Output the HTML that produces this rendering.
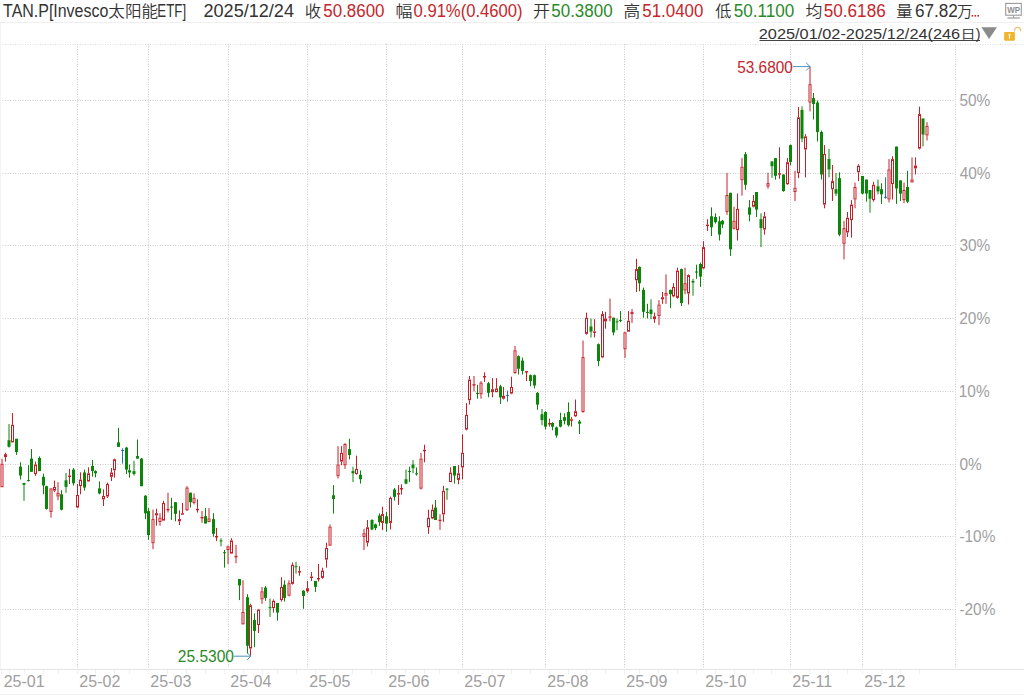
<!DOCTYPE html>
<html><head><meta charset="utf-8"><title>TAN.P</title><style>
html,body{margin:0;padding:0;background:#fff;}
body{width:1024px;height:695px;overflow:hidden;position:relative;}
</style></head><body>
<svg width="1024" height="695" style="position:absolute;left:0;top:0;font-family:'Liberation Sans','Noto Sans CJK SC',sans-serif"><g stroke="#cbcbcb" stroke-width="1" stroke-dasharray="1 1.5"><line x1="0" y1="100.5" x2="955" y2="100.5"/><line x1="0" y1="173.5" x2="955" y2="173.5"/><line x1="0" y1="245.5" x2="955" y2="245.5"/><line x1="0" y1="318.5" x2="955" y2="318.5"/><line x1="0" y1="391.5" x2="955" y2="391.5"/><line x1="0" y1="464.5" x2="955" y2="464.5"/><line x1="0" y1="536.5" x2="955" y2="536.5"/><line x1="0" y1="609.5" x2="955" y2="609.5"/><line x1="77.5" y1="44" x2="77.5" y2="669"/><line x1="148.5" y1="44" x2="148.5" y2="669"/><line x1="228.5" y1="44" x2="228.5" y2="669"/><line x1="307.5" y1="44" x2="307.5" y2="669"/><line x1="386.5" y1="44" x2="386.5" y2="669"/><line x1="462.5" y1="44" x2="462.5" y2="669"/><line x1="545.5" y1="44" x2="545.5" y2="669"/><line x1="624.5" y1="44" x2="624.5" y2="669"/><line x1="703.5" y1="44" x2="703.5" y2="669"/><line x1="790.5" y1="44" x2="790.5" y2="669"/><line x1="862.5" y1="44" x2="862.5" y2="669"/><line x1="955.5" y1="44" x2="955.5" y2="669"/></g><line x1="0" y1="669.5" x2="1024" y2="669.5" stroke="#e4e4e4"/><line x1="0" y1="22.5" x2="1024" y2="22.5" stroke="#efefef"/><line x1="0" y1="694.5" x2="1024" y2="694.5" stroke="#efefef"/><g stroke="#f1f1f1" stroke-width="1"><line x1="1.5" y1="670" x2="1.5" y2="674"/><line x1="9.5" y1="670" x2="9.5" y2="674"/><line x1="24.5" y1="670" x2="24.5" y2="674"/><line x1="43.5" y1="670" x2="43.5" y2="674"/><line x1="58.5" y1="670" x2="58.5" y2="674"/><line x1="77.5" y1="670" x2="77.5" y2="674"/><line x1="95.5" y1="670" x2="95.5" y2="674"/><line x1="114.5" y1="670" x2="114.5" y2="674"/><line x1="129.5" y1="670" x2="129.5" y2="674"/><line x1="148.5" y1="670" x2="148.5" y2="674"/><line x1="167.5" y1="670" x2="167.5" y2="674"/><line x1="186.5" y1="670" x2="186.5" y2="674"/><line x1="205.5" y1="670" x2="205.5" y2="674"/><line x1="224.5" y1="670" x2="224.5" y2="674"/><line x1="243.5" y1="670" x2="243.5" y2="674"/><line x1="262.5" y1="670" x2="262.5" y2="674"/><line x1="277.5" y1="670" x2="277.5" y2="674"/><line x1="296.5" y1="670" x2="296.5" y2="674"/><line x1="315.5" y1="670" x2="315.5" y2="674"/><line x1="333.5" y1="670" x2="333.5" y2="674"/><line x1="352.5" y1="670" x2="352.5" y2="674"/><line x1="371.5" y1="670" x2="371.5" y2="674"/><line x1="386.5" y1="670" x2="386.5" y2="674"/><line x1="405.5" y1="670" x2="405.5" y2="674"/><line x1="424.5" y1="670" x2="424.5" y2="674"/><line x1="439.5" y1="670" x2="439.5" y2="674"/><line x1="458.5" y1="670" x2="458.5" y2="674"/><line x1="473.5" y1="670" x2="473.5" y2="674"/><line x1="492.5" y1="670" x2="492.5" y2="674"/><line x1="511.5" y1="670" x2="511.5" y2="674"/><line x1="530.5" y1="670" x2="530.5" y2="674"/><line x1="549.5" y1="670" x2="549.5" y2="674"/><line x1="568.5" y1="670" x2="568.5" y2="674"/><line x1="586.5" y1="670" x2="586.5" y2="674"/><line x1="605.5" y1="670" x2="605.5" y2="674"/><line x1="624.5" y1="670" x2="624.5" y2="674"/><line x1="639.5" y1="670" x2="639.5" y2="674"/><line x1="658.5" y1="670" x2="658.5" y2="674"/><line x1="677.5" y1="670" x2="677.5" y2="674"/><line x1="696.5" y1="670" x2="696.5" y2="674"/><line x1="715.5" y1="670" x2="715.5" y2="674"/><line x1="734.5" y1="670" x2="734.5" y2="674"/><line x1="753.5" y1="670" x2="753.5" y2="674"/><line x1="771.5" y1="670" x2="771.5" y2="674"/><line x1="790.5" y1="670" x2="790.5" y2="674"/><line x1="809.5" y1="670" x2="809.5" y2="674"/><line x1="828.5" y1="670" x2="828.5" y2="674"/><line x1="847.5" y1="670" x2="847.5" y2="674"/><line x1="862.5" y1="670" x2="862.5" y2="674"/><line x1="881.5" y1="670" x2="881.5" y2="674"/><line x1="900.5" y1="670" x2="900.5" y2="674"/><line x1="919.5" y1="670" x2="919.5" y2="674"/></g><line x1="0" y1="44.5" x2="1024" y2="44.5" stroke="#dcdcdc" stroke-dasharray="1 1.5"/><line x1="0.5" y1="23" x2="0.5" y2="669" stroke="#f3f3f3"/><g stroke-width="1"><line x1="2.00" y1="458.6" x2="2.00" y2="463.7" stroke="#c81e28"/><rect x="1.00" y="464.2" width="2.00" height="22.5" fill="#fff" stroke="#c81e28"/><line x1="5.50" y1="452.7" x2="5.50" y2="454.2" stroke="#c81e28"/><line x1="5.50" y1="457.1" x2="5.50" y2="461.5" stroke="#c81e28"/><rect x="4.50" y="454.7" width="2.00" height="1.9" fill="#fff" stroke="#c81e28"/><line x1="9.00" y1="424.1" x2="9.00" y2="447.6" stroke="#0b860b"/><rect x="7.50" y="440.2" width="3.00" height="6.6" fill="#0b860b"/><line x1="12.50" y1="413.1" x2="12.50" y2="424.8" stroke="#c81e28"/><rect x="11.50" y="425.3" width="2.00" height="16.6" fill="#fff" stroke="#c81e28"/><line x1="16.50" y1="438.8" x2="16.50" y2="454.9" stroke="#0b860b"/><rect x="15.00" y="438.8" width="3.00" height="13.2" fill="#0b860b"/><line x1="20.50" y1="462.3" x2="20.50" y2="479.5" stroke="#0b860b"/><rect x="19.00" y="466.7" width="3.00" height="8.8" fill="#0b860b"/><line x1="24.00" y1="482.8" x2="24.00" y2="500.8" stroke="#0b860b"/><rect x="22.50" y="483.0" width="3.00" height="1.8" fill="#0b860b"/><line x1="28.50" y1="465.2" x2="28.50" y2="481.5" stroke="#0b860b"/><rect x="27.00" y="480.1" width="3.00" height="1.0" fill="#0b860b"/><line x1="31.50" y1="449.1" x2="31.50" y2="471.8" stroke="#0b860b"/><rect x="30.00" y="458.6" width="3.00" height="13.2" fill="#0b860b"/><line x1="35.50" y1="461.5" x2="35.50" y2="464.5" stroke="#c81e28"/><line x1="35.50" y1="474.0" x2="35.50" y2="475.9" stroke="#c81e28"/><rect x="34.50" y="465.0" width="2.00" height="8.5" fill="#fff" stroke="#c81e28"/><line x1="39.50" y1="456.4" x2="39.50" y2="471.1" stroke="#0b860b"/><rect x="38.00" y="457.9" width="3.00" height="13.2" fill="#0b860b"/><line x1="43.50" y1="473.7" x2="43.50" y2="494.2" stroke="#0b860b"/><rect x="42.00" y="476.8" width="3.00" height="8.7" fill="#0b860b"/><line x1="46.50" y1="485.8" x2="46.50" y2="509.6" stroke="#0b860b"/><rect x="45.00" y="486.2" width="3.00" height="22.7" fill="#0b860b"/><line x1="51.00" y1="511.9" x2="51.00" y2="517.7" stroke="#c81e28"/><rect x="50.00" y="488.9" width="2.00" height="22.5" fill="#fff" stroke="#c81e28"/><line x1="54.50" y1="480.6" x2="54.50" y2="486.9" stroke="#c81e28"/><line x1="54.50" y1="490.6" x2="54.50" y2="492.1" stroke="#c81e28"/><rect x="53.50" y="487.4" width="2.00" height="2.7" fill="#fff" stroke="#c81e28"/><line x1="58.00" y1="482.1" x2="58.00" y2="492.8" stroke="#c81e28"/><line x1="58.00" y1="496.5" x2="58.00" y2="500.2" stroke="#c81e28"/><rect x="57.00" y="493.3" width="2.00" height="2.7" fill="#fff" stroke="#c81e28"/><line x1="61.50" y1="490.2" x2="61.50" y2="510.4" stroke="#0b860b"/><rect x="60.00" y="494.3" width="3.00" height="15.4" fill="#0b860b"/><line x1="66.00" y1="473.0" x2="66.00" y2="492.8" stroke="#0b860b"/><rect x="64.50" y="480.3" width="3.00" height="6.6" fill="#0b860b"/><line x1="69.50" y1="468.9" x2="69.50" y2="475.5" stroke="#c81e28"/><line x1="69.50" y1="477.0" x2="69.50" y2="484.0" stroke="#c81e28"/><rect x="68.50" y="476.0" width="2.00" height="0.5" fill="#fff" stroke="#c81e28"/><line x1="73.50" y1="468.1" x2="73.50" y2="485.5" stroke="#0b860b"/><rect x="72.00" y="469.6" width="3.00" height="13.7" fill="#0b860b"/><line x1="77.50" y1="484.0" x2="77.50" y2="495.0" stroke="#c81e28"/><line x1="77.50" y1="507.4" x2="77.50" y2="508.2" stroke="#c81e28"/><rect x="76.50" y="495.5" width="2.00" height="11.5" fill="#fff" stroke="#c81e28"/><line x1="80.50" y1="472.3" x2="80.50" y2="479.6" stroke="#c81e28"/><line x1="80.50" y1="486.2" x2="80.50" y2="494.3" stroke="#c81e28"/><rect x="79.50" y="480.1" width="2.00" height="5.6" fill="#fff" stroke="#c81e28"/><line x1="84.50" y1="469.6" x2="84.50" y2="490.6" stroke="#0b860b"/><rect x="83.00" y="472.5" width="3.00" height="15.1" fill="#0b860b"/><line x1="88.50" y1="467.4" x2="88.50" y2="473.3" stroke="#c81e28"/><line x1="88.50" y1="481.4" x2="88.50" y2="481.8" stroke="#c81e28"/><rect x="87.50" y="473.8" width="2.00" height="7.1" fill="#fff" stroke="#c81e28"/><line x1="92.50" y1="460.1" x2="92.50" y2="476.7" stroke="#0b860b"/><rect x="91.00" y="465.9" width="3.00" height="5.1" fill="#0b860b"/><line x1="95.50" y1="470.3" x2="95.50" y2="477.4" stroke="#0b860b"/><rect x="94.00" y="471.1" width="3.00" height="2.2" fill="#0b860b"/><line x1="99.50" y1="481.4" x2="99.50" y2="494.3" stroke="#0b860b"/><rect x="98.00" y="488.4" width="3.00" height="5.1" fill="#0b860b"/><line x1="103.50" y1="489.4" x2="103.50" y2="496.0" stroke="#c81e28"/><line x1="103.50" y1="499.4" x2="103.50" y2="506.0" stroke="#c81e28"/><rect x="102.50" y="496.5" width="2.00" height="2.4" fill="#fff" stroke="#c81e28"/><line x1="107.50" y1="482.5" x2="107.50" y2="484.0" stroke="#c81e28"/><line x1="107.50" y1="496.5" x2="107.50" y2="498.0" stroke="#c81e28"/><rect x="106.50" y="484.5" width="2.00" height="11.5" fill="#fff" stroke="#c81e28"/><line x1="111.50" y1="468.1" x2="111.50" y2="472.5" stroke="#c81e28"/><line x1="111.50" y1="477.0" x2="111.50" y2="481.1" stroke="#c81e28"/><rect x="110.50" y="473.0" width="2.00" height="3.4" fill="#fff" stroke="#c81e28"/><line x1="114.50" y1="458.6" x2="114.50" y2="459.3" stroke="#c81e28"/><line x1="114.50" y1="470.3" x2="114.50" y2="477.7" stroke="#c81e28"/><rect x="113.50" y="459.8" width="2.00" height="10.0" fill="#fff" stroke="#c81e28"/><line x1="118.50" y1="427.8" x2="118.50" y2="446.9" stroke="#0b860b"/><rect x="117.00" y="442.4" width="3.00" height="4.4" fill="#0b860b"/><line x1="122.50" y1="448.3" x2="122.50" y2="463.7" stroke="#2a6fb0"/><line x1="121.00" y1="450.5" x2="124.00" y2="450.5" stroke="#2a6fb0"/><line x1="126.50" y1="446.9" x2="126.50" y2="474.0" stroke="#0b860b"/><rect x="125.00" y="447.6" width="3.00" height="22.0" fill="#0b860b"/><line x1="129.50" y1="464.5" x2="129.50" y2="477.7" stroke="#0b860b"/><rect x="128.00" y="470.3" width="3.00" height="2.2" fill="#0b860b"/><line x1="134.00" y1="460.8" x2="134.00" y2="475.6" stroke="#0b860b"/><rect x="132.50" y="471.1" width="3.00" height="2.9" fill="#0b860b"/><line x1="137.50" y1="439.5" x2="137.50" y2="458.6" stroke="#0b860b"/><rect x="136.00" y="456.1" width="3.00" height="2.5" fill="#0b860b"/><line x1="141.50" y1="457.9" x2="141.50" y2="486.2" stroke="#0b860b"/><rect x="140.00" y="458.6" width="3.00" height="27.6" fill="#0b860b"/><line x1="145.50" y1="495.2" x2="145.50" y2="519.2" stroke="#0b860b"/><rect x="144.00" y="495.7" width="3.00" height="17.6" fill="#0b860b"/><line x1="148.50" y1="508.1" x2="148.50" y2="539.7" stroke="#0b860b"/><rect x="147.00" y="511.1" width="3.00" height="23.9" fill="#0b860b"/><line x1="153.00" y1="509.6" x2="153.00" y2="519.1" stroke="#c81e28"/><line x1="153.00" y1="543.3" x2="153.00" y2="549.2" stroke="#c81e28"/><rect x="152.00" y="519.6" width="2.00" height="23.2" fill="#fff" stroke="#c81e28"/><line x1="156.50" y1="508.8" x2="156.50" y2="513.2" stroke="#c81e28"/><line x1="156.50" y1="515.4" x2="156.50" y2="525.7" stroke="#c81e28"/><rect x="155.50" y="513.7" width="2.00" height="1.2" fill="#fff" stroke="#c81e28"/><line x1="160.00" y1="513.2" x2="160.00" y2="517.6" stroke="#c81e28"/><line x1="160.00" y1="522.1" x2="160.00" y2="525.7" stroke="#c81e28"/><rect x="159.00" y="518.1" width="2.00" height="3.4" fill="#fff" stroke="#c81e28"/><line x1="163.50" y1="500.8" x2="163.50" y2="503.0" stroke="#c81e28"/><rect x="162.50" y="503.5" width="2.00" height="16.6" fill="#fff" stroke="#c81e28"/><line x1="168.00" y1="492.7" x2="168.00" y2="508.8" stroke="#c81e28"/><line x1="168.00" y1="509.6" x2="168.00" y2="512.5" stroke="#c81e28"/><rect x="167.00" y="509.3" width="2.00" height="0.5" fill="#fff" stroke="#c81e28"/><line x1="171.50" y1="497.8" x2="171.50" y2="519.9" stroke="#0b860b"/><rect x="170.00" y="506.6" width="3.00" height="1.0" fill="#0b860b"/><line x1="175.50" y1="502.2" x2="175.50" y2="521.3" stroke="#0b860b"/><rect x="174.00" y="502.2" width="3.00" height="11.7" fill="#0b860b"/><line x1="179.50" y1="510.3" x2="179.50" y2="519.1" stroke="#c81e28"/><line x1="179.50" y1="521.3" x2="179.50" y2="525.0" stroke="#c81e28"/><rect x="178.50" y="519.6" width="2.00" height="1.2" fill="#fff" stroke="#c81e28"/><line x1="182.50" y1="503.0" x2="182.50" y2="513.2" stroke="#c81e28"/><rect x="181.50" y="513.7" width="2.00" height="0.5" fill="#fff" stroke="#c81e28"/><line x1="187.00" y1="486.1" x2="187.00" y2="487.5" stroke="#c81e28"/><line x1="187.00" y1="510.3" x2="187.00" y2="511.0" stroke="#c81e28"/><rect x="186.00" y="488.0" width="2.00" height="21.8" fill="#fff" stroke="#c81e28"/><line x1="190.50" y1="492.7" x2="190.50" y2="507.4" stroke="#0b860b"/><rect x="189.00" y="492.7" width="3.00" height="9.5" fill="#0b860b"/><line x1="194.00" y1="493.4" x2="194.00" y2="497.8" stroke="#c81e28"/><line x1="194.00" y1="503.0" x2="194.00" y2="504.4" stroke="#c81e28"/><rect x="193.00" y="498.3" width="2.00" height="4.1" fill="#fff" stroke="#c81e28"/><line x1="197.50" y1="499.3" x2="197.50" y2="508.8" stroke="#c81e28"/><line x1="197.50" y1="509.6" x2="197.50" y2="512.5" stroke="#c81e28"/><rect x="196.50" y="509.3" width="2.00" height="0.5" fill="#fff" stroke="#c81e28"/><line x1="202.00" y1="511.0" x2="202.00" y2="516.9" stroke="#c81e28"/><line x1="202.00" y1="517.6" x2="202.00" y2="522.8" stroke="#c81e28"/><rect x="201.00" y="517.4" width="2.00" height="0.5" fill="#fff" stroke="#c81e28"/><line x1="205.50" y1="508.1" x2="205.50" y2="523.5" stroke="#0b860b"/><rect x="204.00" y="516.2" width="3.00" height="7.3" fill="#0b860b"/><line x1="209.00" y1="508.1" x2="209.00" y2="518.4" stroke="#c81e28"/><rect x="208.00" y="518.9" width="2.00" height="2.7" fill="#fff" stroke="#c81e28"/><line x1="213.50" y1="513.2" x2="213.50" y2="536.7" stroke="#0b860b"/><rect x="212.00" y="519.1" width="3.00" height="14.7" fill="#0b860b"/><line x1="216.50" y1="527.9" x2="216.50" y2="536.0" stroke="#c81e28"/><line x1="216.50" y1="536.7" x2="216.50" y2="541.1" stroke="#c81e28"/><rect x="215.50" y="536.5" width="2.00" height="0.5" fill="#fff" stroke="#c81e28"/><line x1="221.00" y1="538.2" x2="221.00" y2="546.3" stroke="#0b860b"/><rect x="219.50" y="540.4" width="3.00" height="1.0" fill="#0b860b"/><line x1="224.50" y1="550.0" x2="224.50" y2="567.6" stroke="#0b860b"/><rect x="223.00" y="552.2" width="3.00" height="1.0" fill="#0b860b"/><line x1="228.00" y1="545.5" x2="228.00" y2="546.3" stroke="#c81e28"/><line x1="228.00" y1="550.0" x2="228.00" y2="563.9" stroke="#c81e28"/><rect x="227.00" y="546.8" width="2.00" height="2.7" fill="#fff" stroke="#c81e28"/><line x1="231.50" y1="538.2" x2="231.50" y2="540.4" stroke="#c81e28"/><rect x="230.50" y="540.9" width="2.00" height="12.2" fill="#fff" stroke="#c81e28"/><line x1="236.00" y1="544.8" x2="236.00" y2="555.8" stroke="#c81e28"/><line x1="236.00" y1="556.6" x2="236.00" y2="563.2" stroke="#c81e28"/><rect x="235.00" y="556.3" width="2.00" height="0.5" fill="#fff" stroke="#c81e28"/><line x1="239.50" y1="579.1" x2="239.50" y2="600.1" stroke="#0b860b"/><rect x="238.00" y="579.1" width="3.00" height="6.3" fill="#0b860b"/><line x1="243.00" y1="580.3" x2="243.00" y2="611.9" stroke="#c81e28"/><rect x="242.00" y="612.4" width="2.00" height="11.5" fill="#fff" stroke="#c81e28"/><line x1="247.50" y1="594.2" x2="247.50" y2="653.7" stroke="#0b860b"/><rect x="246.00" y="597.2" width="3.00" height="48.5" fill="#0b860b"/><line x1="250.50" y1="603.8" x2="250.50" y2="605.2" stroke="#c81e28"/><line x1="250.50" y1="648.6" x2="250.50" y2="655.9" stroke="#c81e28"/><rect x="249.50" y="605.7" width="2.00" height="42.3" fill="#fff" stroke="#c81e28"/><line x1="254.50" y1="613.3" x2="254.50" y2="647.1" stroke="#0b860b"/><rect x="253.00" y="619.9" width="3.00" height="11.0" fill="#0b860b"/><line x1="258.50" y1="608.9" x2="258.50" y2="609.6" stroke="#c81e28"/><line x1="258.50" y1="625.1" x2="258.50" y2="633.1" stroke="#c81e28"/><rect x="257.50" y="610.1" width="2.00" height="14.4" fill="#fff" stroke="#c81e28"/><line x1="262.00" y1="586.9" x2="262.00" y2="591.3" stroke="#c81e28"/><line x1="262.00" y1="599.4" x2="262.00" y2="603.8" stroke="#c81e28"/><rect x="261.00" y="591.8" width="2.00" height="7.1" fill="#fff" stroke="#c81e28"/><line x1="265.50" y1="586.2" x2="265.50" y2="600.8" stroke="#0b860b"/><rect x="264.00" y="587.6" width="3.00" height="10.3" fill="#0b860b"/><line x1="270.00" y1="598.6" x2="270.00" y2="617.0" stroke="#0b860b"/><rect x="268.50" y="607.2" width="3.00" height="1.0" fill="#0b860b"/><line x1="273.50" y1="599.4" x2="273.50" y2="600.8" stroke="#c81e28"/><line x1="273.50" y1="608.2" x2="273.50" y2="612.6" stroke="#c81e28"/><rect x="272.50" y="601.3" width="2.00" height="6.3" fill="#fff" stroke="#c81e28"/><line x1="277.50" y1="603.0" x2="277.50" y2="620.7" stroke="#0b860b"/><rect x="276.00" y="603.0" width="3.00" height="9.5" fill="#0b860b"/><line x1="281.50" y1="577.3" x2="281.50" y2="586.9" stroke="#c81e28"/><line x1="281.50" y1="600.1" x2="281.50" y2="601.6" stroke="#c81e28"/><rect x="280.50" y="587.4" width="2.00" height="12.2" fill="#fff" stroke="#c81e28"/><line x1="284.50" y1="580.3" x2="284.50" y2="601.6" stroke="#0b860b"/><rect x="283.00" y="584.7" width="3.00" height="13.2" fill="#0b860b"/><line x1="289.00" y1="580.3" x2="289.00" y2="583.2" stroke="#c81e28"/><line x1="289.00" y1="595.7" x2="289.00" y2="596.4" stroke="#c81e28"/><rect x="288.00" y="583.7" width="2.00" height="11.5" fill="#fff" stroke="#c81e28"/><line x1="292.50" y1="562.5" x2="292.50" y2="564.8" stroke="#c81e28"/><line x1="292.50" y1="583.8" x2="292.50" y2="584.6" stroke="#c81e28"/><rect x="291.50" y="565.3" width="2.00" height="18.1" fill="#fff" stroke="#c81e28"/><line x1="296.00" y1="561.8" x2="296.00" y2="573.6" stroke="#0b860b"/><rect x="294.50" y="566.2" width="3.00" height="1.0" fill="#0b860b"/><line x1="299.50" y1="566.2" x2="299.50" y2="571.1" stroke="#c81e28"/><line x1="299.50" y1="571.4" x2="299.50" y2="575.8" stroke="#c81e28"/><rect x="298.50" y="571.6" width="2.00" height="0.5" fill="#fff" stroke="#c81e28"/><line x1="303.50" y1="590.2" x2="303.50" y2="608.8" stroke="#0b860b"/><rect x="302.00" y="590.7" width="3.00" height="5.2" fill="#0b860b"/><line x1="307.50" y1="580.9" x2="307.50" y2="588.2" stroke="#c81e28"/><line x1="307.50" y1="591.4" x2="307.50" y2="592.7" stroke="#c81e28"/><rect x="306.50" y="588.7" width="2.00" height="2.2" fill="#fff" stroke="#c81e28"/><line x1="311.50" y1="572.1" x2="311.50" y2="576.5" stroke="#c81e28"/><line x1="311.50" y1="577.2" x2="311.50" y2="580.9" stroke="#c81e28"/><rect x="310.50" y="577.0" width="2.00" height="0.5" fill="#fff" stroke="#c81e28"/><line x1="315.50" y1="580.9" x2="315.50" y2="591.9" stroke="#0b860b"/><rect x="314.00" y="580.9" width="3.00" height="5.9" fill="#0b860b"/><line x1="318.50" y1="564.0" x2="318.50" y2="578.0" stroke="#c81e28"/><line x1="318.50" y1="578.7" x2="318.50" y2="581.6" stroke="#c81e28"/><rect x="317.50" y="578.5" width="2.00" height="0.5" fill="#fff" stroke="#c81e28"/><line x1="322.50" y1="567.7" x2="322.50" y2="570.6" stroke="#c81e28"/><line x1="322.50" y1="578.0" x2="322.50" y2="578.7" stroke="#c81e28"/><rect x="321.50" y="571.1" width="2.00" height="6.3" fill="#fff" stroke="#c81e28"/><line x1="326.50" y1="542.7" x2="326.50" y2="547.9" stroke="#c81e28"/><line x1="326.50" y1="559.6" x2="326.50" y2="567.7" stroke="#c81e28"/><rect x="325.50" y="548.4" width="2.00" height="10.7" fill="#fff" stroke="#c81e28"/><line x1="330.00" y1="524.4" x2="330.00" y2="526.6" stroke="#c81e28"/><rect x="329.00" y="527.1" width="2.00" height="18.1" fill="#fff" stroke="#c81e28"/><line x1="333.50" y1="485.1" x2="333.50" y2="513.7" stroke="#0b860b"/><rect x="332.00" y="495.3" width="3.00" height="3.7" fill="#0b860b"/><line x1="338.00" y1="446.2" x2="338.00" y2="464.5" stroke="#c81e28"/><line x1="338.00" y1="476.3" x2="338.00" y2="478.5" stroke="#c81e28"/><rect x="337.00" y="465.0" width="2.00" height="10.7" fill="#fff" stroke="#c81e28"/><line x1="341.50" y1="446.2" x2="341.50" y2="452.8" stroke="#c81e28"/><line x1="341.50" y1="461.6" x2="341.50" y2="465.2" stroke="#c81e28"/><rect x="340.50" y="453.3" width="2.00" height="7.8" fill="#fff" stroke="#c81e28"/><line x1="345.00" y1="443.2" x2="345.00" y2="444.0" stroke="#c81e28"/><line x1="345.00" y1="465.2" x2="345.00" y2="468.9" stroke="#c81e28"/><rect x="344.00" y="444.5" width="2.00" height="20.3" fill="#fff" stroke="#c81e28"/><line x1="349.50" y1="438.8" x2="349.50" y2="459.4" stroke="#0b860b"/><rect x="348.00" y="449.1" width="3.00" height="5.9" fill="#0b860b"/><line x1="353.00" y1="466.7" x2="353.00" y2="482.1" stroke="#0b860b"/><rect x="351.50" y="471.1" width="3.00" height="2.2" fill="#0b860b"/><line x1="356.50" y1="455.7" x2="356.50" y2="468.9" stroke="#c81e28"/><line x1="356.50" y1="474.1" x2="356.50" y2="474.8" stroke="#c81e28"/><rect x="355.50" y="469.4" width="2.00" height="4.1" fill="#fff" stroke="#c81e28"/><line x1="360.50" y1="470.4" x2="360.50" y2="483.6" stroke="#0b860b"/><rect x="359.00" y="474.8" width="3.00" height="4.4" fill="#0b860b"/><line x1="364.00" y1="528.8" x2="364.00" y2="533.2" stroke="#c81e28"/><line x1="364.00" y1="536.9" x2="364.00" y2="550.1" stroke="#c81e28"/><rect x="363.00" y="533.7" width="2.00" height="2.7" fill="#fff" stroke="#c81e28"/><line x1="367.50" y1="520.0" x2="367.50" y2="527.3" stroke="#c81e28"/><line x1="367.50" y1="542.7" x2="367.50" y2="546.4" stroke="#c81e28"/><rect x="366.50" y="527.8" width="2.00" height="14.4" fill="#fff" stroke="#c81e28"/><line x1="372.00" y1="519.2" x2="372.00" y2="530.2" stroke="#0b860b"/><rect x="370.50" y="520.0" width="3.00" height="9.5" fill="#0b860b"/><line x1="375.50" y1="523.6" x2="375.50" y2="530.2" stroke="#0b860b"/><rect x="374.00" y="524.4" width="3.00" height="3.7" fill="#0b860b"/><line x1="379.50" y1="513.4" x2="379.50" y2="525.8" stroke="#0b860b"/><rect x="378.00" y="515.6" width="3.00" height="6.6" fill="#0b860b"/><line x1="382.50" y1="506.7" x2="382.50" y2="514.1" stroke="#c81e28"/><line x1="382.50" y1="522.9" x2="382.50" y2="530.2" stroke="#c81e28"/><rect x="381.50" y="514.6" width="2.00" height="7.8" fill="#fff" stroke="#c81e28"/><line x1="386.50" y1="511.9" x2="386.50" y2="531.7" stroke="#0b860b"/><rect x="385.00" y="516.3" width="3.00" height="7.3" fill="#0b860b"/><line x1="390.50" y1="496.5" x2="390.50" y2="497.9" stroke="#c81e28"/><line x1="390.50" y1="522.9" x2="390.50" y2="529.5" stroke="#c81e28"/><rect x="389.50" y="498.4" width="2.00" height="24.0" fill="#fff" stroke="#c81e28"/><line x1="394.50" y1="488.0" x2="394.50" y2="500.5" stroke="#0b860b"/><rect x="393.00" y="489.5" width="3.00" height="7.3" fill="#0b860b"/><line x1="398.50" y1="485.1" x2="398.50" y2="493.1" stroke="#c81e28"/><line x1="398.50" y1="493.9" x2="398.50" y2="504.9" stroke="#c81e28"/><rect x="397.50" y="493.6" width="2.00" height="0.5" fill="#fff" stroke="#c81e28"/><line x1="401.50" y1="484.3" x2="401.50" y2="488.0" stroke="#c81e28"/><line x1="401.50" y1="488.4" x2="401.50" y2="494.6" stroke="#c81e28"/><rect x="400.50" y="488.5" width="2.00" height="0.5" fill="#fff" stroke="#c81e28"/><line x1="406.00" y1="469.6" x2="406.00" y2="484.3" stroke="#0b860b"/><rect x="404.50" y="479.2" width="3.00" height="4.4" fill="#0b860b"/><line x1="409.50" y1="466.7" x2="409.50" y2="482.1" stroke="#0b860b"/><rect x="408.00" y="471.1" width="3.00" height="1.0" fill="#0b860b"/><line x1="413.00" y1="460.1" x2="413.00" y2="473.3" stroke="#0b860b"/><rect x="411.50" y="464.5" width="3.00" height="3.7" fill="#0b860b"/><line x1="416.50" y1="467.4" x2="416.50" y2="475.5" stroke="#0b860b"/><rect x="415.00" y="473.3" width="3.00" height="1.0" fill="#0b860b"/><line x1="421.00" y1="452.8" x2="421.00" y2="458.6" stroke="#c81e28"/><line x1="421.00" y1="488.7" x2="421.00" y2="489.5" stroke="#c81e28"/><rect x="420.00" y="459.1" width="2.00" height="29.1" fill="#fff" stroke="#c81e28"/><line x1="424.50" y1="444.7" x2="424.50" y2="449.8" stroke="#c81e28"/><line x1="424.50" y1="450.6" x2="424.50" y2="462.3" stroke="#c81e28"/><rect x="423.50" y="450.3" width="2.00" height="0.5" fill="#fff" stroke="#c81e28"/><line x1="428.50" y1="509.7" x2="428.50" y2="517.8" stroke="#c81e28"/><line x1="428.50" y1="527.3" x2="428.50" y2="533.9" stroke="#c81e28"/><rect x="427.50" y="518.3" width="2.00" height="8.5" fill="#fff" stroke="#c81e28"/><line x1="432.50" y1="504.5" x2="432.50" y2="509.7" stroke="#c81e28"/><line x1="432.50" y1="518.5" x2="432.50" y2="519.2" stroke="#c81e28"/><rect x="431.50" y="510.2" width="2.00" height="7.8" fill="#fff" stroke="#c81e28"/><line x1="435.50" y1="500.1" x2="435.50" y2="520.0" stroke="#0b860b"/><rect x="434.00" y="507.5" width="3.00" height="12.5" fill="#0b860b"/><line x1="440.00" y1="514.4" x2="440.00" y2="519.6" stroke="#c81e28"/><line x1="440.00" y1="521.0" x2="440.00" y2="529.9" stroke="#c81e28"/><rect x="439.00" y="520.1" width="2.00" height="0.5" fill="#fff" stroke="#c81e28"/><line x1="443.50" y1="485.8" x2="443.50" y2="490.9" stroke="#c81e28"/><line x1="443.50" y1="514.4" x2="443.50" y2="521.8" stroke="#c81e28"/><rect x="442.50" y="491.4" width="2.00" height="22.5" fill="#fff" stroke="#c81e28"/><line x1="447.00" y1="488.0" x2="447.00" y2="499.8" stroke="#0b860b"/><rect x="445.50" y="488.7" width="3.00" height="1.0" fill="#0b860b"/><line x1="450.50" y1="467.4" x2="450.50" y2="472.6" stroke="#c81e28"/><rect x="449.50" y="473.1" width="2.00" height="8.5" fill="#fff" stroke="#c81e28"/><line x1="454.50" y1="466.0" x2="454.50" y2="483.6" stroke="#0b860b"/><rect x="453.00" y="466.0" width="3.00" height="9.5" fill="#0b860b"/><line x1="458.50" y1="465.2" x2="458.50" y2="473.3" stroke="#c81e28"/><line x1="458.50" y1="479.9" x2="458.50" y2="484.3" stroke="#c81e28"/><rect x="457.50" y="473.8" width="2.00" height="5.6" fill="#fff" stroke="#c81e28"/><line x1="462.50" y1="434.4" x2="462.50" y2="452.8" stroke="#c81e28"/><line x1="462.50" y1="467.4" x2="462.50" y2="479.2" stroke="#c81e28"/><rect x="461.50" y="453.3" width="2.00" height="13.7" fill="#fff" stroke="#c81e28"/><line x1="466.50" y1="403.1" x2="466.50" y2="414.9" stroke="#c81e28"/><line x1="466.50" y1="429.6" x2="466.50" y2="430.3" stroke="#c81e28"/><rect x="465.50" y="415.4" width="2.00" height="13.7" fill="#fff" stroke="#c81e28"/><line x1="469.50" y1="376.0" x2="469.50" y2="379.6" stroke="#c81e28"/><line x1="469.50" y1="400.2" x2="469.50" y2="404.6" stroke="#c81e28"/><rect x="468.50" y="380.1" width="2.00" height="19.6" fill="#fff" stroke="#c81e28"/><line x1="474.00" y1="376.0" x2="474.00" y2="384.1" stroke="#c81e28"/><line x1="474.00" y1="384.8" x2="474.00" y2="391.4" stroke="#c81e28"/><rect x="473.00" y="384.6" width="2.00" height="0.5" fill="#fff" stroke="#c81e28"/><line x1="477.50" y1="384.8" x2="477.50" y2="398.7" stroke="#0b860b"/><rect x="476.00" y="392.9" width="3.00" height="1.0" fill="#0b860b"/><line x1="481.00" y1="381.1" x2="481.00" y2="382.6" stroke="#c81e28"/><line x1="481.00" y1="394.3" x2="481.00" y2="398.7" stroke="#c81e28"/><rect x="480.00" y="383.1" width="2.00" height="10.7" fill="#fff" stroke="#c81e28"/><line x1="484.50" y1="372.3" x2="484.50" y2="376.0" stroke="#c81e28"/><line x1="484.50" y1="376.7" x2="484.50" y2="381.9" stroke="#c81e28"/><rect x="483.50" y="376.5" width="2.00" height="0.5" fill="#fff" stroke="#c81e28"/><line x1="488.50" y1="381.9" x2="488.50" y2="397.3" stroke="#0b860b"/><rect x="487.00" y="383.3" width="3.00" height="9.5" fill="#0b860b"/><line x1="492.50" y1="378.2" x2="492.50" y2="389.2" stroke="#c81e28"/><line x1="492.50" y1="392.1" x2="492.50" y2="397.3" stroke="#c81e28"/><rect x="491.50" y="389.7" width="2.00" height="1.9" fill="#fff" stroke="#c81e28"/><line x1="496.50" y1="378.2" x2="496.50" y2="388.5" stroke="#c81e28"/><rect x="495.50" y="389.0" width="2.00" height="2.7" fill="#fff" stroke="#c81e28"/><line x1="500.50" y1="384.8" x2="500.50" y2="403.9" stroke="#0b860b"/><rect x="499.00" y="386.3" width="3.00" height="11.0" fill="#0b860b"/><line x1="503.50" y1="387.0" x2="503.50" y2="395.8" stroke="#c81e28"/><line x1="503.50" y1="398.7" x2="503.50" y2="399.5" stroke="#c81e28"/><rect x="502.50" y="396.3" width="2.00" height="1.9" fill="#fff" stroke="#c81e28"/><line x1="507.50" y1="390.7" x2="507.50" y2="401.7" stroke="#2a6fb0"/><line x1="506.00" y1="395.5" x2="509.00" y2="395.5" stroke="#2a6fb0"/><line x1="511.50" y1="376.7" x2="511.50" y2="387.0" stroke="#c81e28"/><line x1="511.50" y1="393.6" x2="511.50" y2="394.3" stroke="#c81e28"/><rect x="510.50" y="387.5" width="2.00" height="5.6" fill="#fff" stroke="#c81e28"/><line x1="515.00" y1="345.9" x2="515.00" y2="350.3" stroke="#c81e28"/><line x1="515.00" y1="373.0" x2="515.00" y2="373.8" stroke="#c81e28"/><rect x="514.00" y="350.8" width="2.00" height="21.8" fill="#fff" stroke="#c81e28"/><line x1="518.50" y1="355.4" x2="518.50" y2="374.5" stroke="#0b860b"/><rect x="517.00" y="356.2" width="3.00" height="12.5" fill="#0b860b"/><line x1="522.50" y1="357.6" x2="522.50" y2="374.5" stroke="#0b860b"/><rect x="521.00" y="360.6" width="3.00" height="10.3" fill="#0b860b"/><line x1="526.50" y1="371.6" x2="526.50" y2="381.1" stroke="#c81e28"/><rect x="525.50" y="371.6" width="2.00" height="0.5" fill="#fff" stroke="#c81e28"/><line x1="530.50" y1="374.5" x2="530.50" y2="386.3" stroke="#0b860b"/><rect x="529.00" y="375.2" width="3.00" height="5.9" fill="#0b860b"/><line x1="534.50" y1="374.5" x2="534.50" y2="388.5" stroke="#0b860b"/><rect x="533.00" y="375.2" width="3.00" height="10.3" fill="#0b860b"/><line x1="537.50" y1="392.1" x2="537.50" y2="409.8" stroke="#0b860b"/><rect x="536.00" y="392.9" width="3.00" height="11.7" fill="#0b860b"/><line x1="542.00" y1="409.0" x2="542.00" y2="425.2" stroke="#0b860b"/><rect x="540.50" y="414.2" width="3.00" height="5.9" fill="#0b860b"/><line x1="545.50" y1="411.2" x2="545.50" y2="429.6" stroke="#0b860b"/><rect x="544.00" y="412.0" width="3.00" height="14.7" fill="#0b860b"/><line x1="549.50" y1="418.6" x2="549.50" y2="423.0" stroke="#c81e28"/><line x1="549.50" y1="423.7" x2="549.50" y2="426.6" stroke="#c81e28"/><rect x="548.50" y="423.5" width="2.00" height="0.5" fill="#fff" stroke="#c81e28"/><line x1="552.50" y1="422.2" x2="552.50" y2="430.3" stroke="#0b860b"/><rect x="551.00" y="423.0" width="3.00" height="3.7" fill="#0b860b"/><line x1="556.50" y1="426.6" x2="556.50" y2="437.7" stroke="#0b860b"/><rect x="555.00" y="427.4" width="3.00" height="8.1" fill="#0b860b"/><line x1="560.50" y1="412.7" x2="560.50" y2="427.4" stroke="#0b860b"/><rect x="559.00" y="420.0" width="3.00" height="6.6" fill="#0b860b"/><line x1="564.50" y1="413.4" x2="564.50" y2="424.4" stroke="#0b860b"/><rect x="563.00" y="417.1" width="3.00" height="3.7" fill="#0b860b"/><line x1="568.50" y1="402.4" x2="568.50" y2="426.6" stroke="#0b860b"/><rect x="567.00" y="412.0" width="3.00" height="13.2" fill="#0b860b"/><line x1="571.50" y1="417.1" x2="571.50" y2="419.3" stroke="#c81e28"/><line x1="571.50" y1="420.0" x2="571.50" y2="426.6" stroke="#c81e28"/><rect x="570.50" y="419.8" width="2.00" height="0.5" fill="#fff" stroke="#c81e28"/><line x1="575.50" y1="399.5" x2="575.50" y2="411.2" stroke="#c81e28"/><line x1="575.50" y1="416.4" x2="575.50" y2="417.1" stroke="#c81e28"/><rect x="574.50" y="411.7" width="2.00" height="4.1" fill="#fff" stroke="#c81e28"/><line x1="579.50" y1="420.0" x2="579.50" y2="434.0" stroke="#0b860b"/><rect x="578.00" y="421.5" width="3.00" height="2.2" fill="#0b860b"/><line x1="583.00" y1="340.5" x2="583.00" y2="357.1" stroke="#c81e28"/><line x1="583.00" y1="412.0" x2="583.00" y2="412.7" stroke="#c81e28"/><rect x="582.00" y="357.6" width="2.00" height="53.9" fill="#fff" stroke="#c81e28"/><line x1="586.50" y1="312.6" x2="586.50" y2="317.7" stroke="#c81e28"/><line x1="586.50" y1="333.9" x2="586.50" y2="334.6" stroke="#c81e28"/><rect x="585.50" y="318.2" width="2.00" height="15.2" fill="#fff" stroke="#c81e28"/><line x1="591.00" y1="318.5" x2="591.00" y2="337.5" stroke="#0b860b"/><rect x="589.50" y="326.5" width="3.00" height="5.1" fill="#0b860b"/><line x1="594.50" y1="319.2" x2="594.50" y2="331.4" stroke="#c81e28"/><line x1="594.50" y1="332.0" x2="594.50" y2="337.5" stroke="#c81e28"/><rect x="593.50" y="331.9" width="2.00" height="0.5" fill="#fff" stroke="#c81e28"/><line x1="598.50" y1="343.4" x2="598.50" y2="366.2" stroke="#0b860b"/><rect x="597.00" y="344.2" width="3.00" height="16.9" fill="#0b860b"/><line x1="602.50" y1="311.1" x2="602.50" y2="314.1" stroke="#c81e28"/><line x1="602.50" y1="357.4" x2="602.50" y2="358.1" stroke="#c81e28"/><rect x="601.50" y="314.6" width="2.00" height="42.3" fill="#fff" stroke="#c81e28"/><line x1="605.50" y1="311.9" x2="605.50" y2="318.5" stroke="#c81e28"/><line x1="605.50" y1="321.4" x2="605.50" y2="328.7" stroke="#c81e28"/><rect x="604.50" y="319.0" width="2.00" height="1.9" fill="#fff" stroke="#c81e28"/><line x1="610.00" y1="298.6" x2="610.00" y2="316.3" stroke="#c81e28"/><line x1="610.00" y1="317.0" x2="610.00" y2="321.4" stroke="#c81e28"/><rect x="609.00" y="316.8" width="2.00" height="0.5" fill="#fff" stroke="#c81e28"/><line x1="613.50" y1="317.7" x2="613.50" y2="335.3" stroke="#0b860b"/><rect x="612.00" y="317.7" width="3.00" height="14.7" fill="#0b860b"/><line x1="617.00" y1="318.5" x2="617.00" y2="330.2" stroke="#0b860b"/><rect x="615.50" y="321.4" width="3.00" height="1.0" fill="#0b860b"/><line x1="620.50" y1="311.1" x2="620.50" y2="322.1" stroke="#0b860b"/><rect x="619.00" y="319.9" width="3.00" height="1.0" fill="#0b860b"/><line x1="625.00" y1="331.7" x2="625.00" y2="332.4" stroke="#c81e28"/><line x1="625.00" y1="349.3" x2="625.00" y2="358.1" stroke="#c81e28"/><rect x="624.00" y="332.9" width="2.00" height="15.9" fill="#fff" stroke="#c81e28"/><line x1="628.50" y1="311.1" x2="628.50" y2="320.7" stroke="#c81e28"/><rect x="627.50" y="321.2" width="2.00" height="10.0" fill="#fff" stroke="#c81e28"/><line x1="632.00" y1="308.9" x2="632.00" y2="311.9" stroke="#c81e28"/><line x1="632.00" y1="314.1" x2="632.00" y2="322.9" stroke="#c81e28"/><rect x="631.00" y="312.4" width="2.00" height="1.2" fill="#fff" stroke="#c81e28"/><line x1="636.50" y1="258.8" x2="636.50" y2="269.1" stroke="#c81e28"/><line x1="636.50" y1="280.3" x2="636.50" y2="292.0" stroke="#c81e28"/><rect x="635.50" y="269.6" width="2.00" height="10.2" fill="#fff" stroke="#c81e28"/><line x1="639.50" y1="266.4" x2="639.50" y2="291.3" stroke="#0b860b"/><rect x="638.00" y="266.9" width="3.00" height="16.3" fill="#0b860b"/><line x1="643.50" y1="287.6" x2="643.50" y2="317.7" stroke="#0b860b"/><rect x="642.00" y="289.8" width="3.00" height="22.0" fill="#0b860b"/><line x1="647.50" y1="303.8" x2="647.50" y2="318.5" stroke="#0b860b"/><rect x="646.00" y="311.9" width="3.00" height="1.0" fill="#0b860b"/><line x1="651.00" y1="299.4" x2="651.00" y2="319.2" stroke="#0b860b"/><rect x="649.50" y="309.6" width="3.00" height="4.4" fill="#0b860b"/><line x1="654.50" y1="312.6" x2="654.50" y2="316.3" stroke="#c81e28"/><line x1="654.50" y1="319.2" x2="654.50" y2="322.9" stroke="#c81e28"/><rect x="653.50" y="316.8" width="2.00" height="1.9" fill="#fff" stroke="#c81e28"/><line x1="659.00" y1="300.1" x2="659.00" y2="304.5" stroke="#c81e28"/><line x1="659.00" y1="316.3" x2="659.00" y2="325.1" stroke="#c81e28"/><rect x="658.00" y="305.0" width="2.00" height="10.7" fill="#fff" stroke="#c81e28"/><line x1="662.50" y1="292.0" x2="662.50" y2="297.2" stroke="#c81e28"/><line x1="662.50" y1="299.4" x2="662.50" y2="303.8" stroke="#c81e28"/><rect x="661.50" y="297.7" width="2.00" height="1.2" fill="#fff" stroke="#c81e28"/><line x1="666.00" y1="274.4" x2="666.00" y2="292.8" stroke="#c81e28"/><line x1="666.00" y1="295.7" x2="666.00" y2="303.8" stroke="#c81e28"/><rect x="665.00" y="293.3" width="2.00" height="1.9" fill="#fff" stroke="#c81e28"/><line x1="670.50" y1="289.8" x2="670.50" y2="308.2" stroke="#0b860b"/><rect x="669.00" y="289.8" width="3.00" height="4.4" fill="#0b860b"/><line x1="673.50" y1="283.2" x2="673.50" y2="286.9" stroke="#c81e28"/><line x1="673.50" y1="296.4" x2="673.50" y2="297.2" stroke="#c81e28"/><rect x="672.50" y="287.4" width="2.00" height="8.5" fill="#fff" stroke="#c81e28"/><line x1="677.50" y1="267.7" x2="677.50" y2="270.6" stroke="#c81e28"/><line x1="677.50" y1="297.9" x2="677.50" y2="298.6" stroke="#c81e28"/><rect x="676.50" y="271.1" width="2.00" height="26.3" fill="#fff" stroke="#c81e28"/><line x1="681.50" y1="268.6" x2="681.50" y2="306.0" stroke="#0b860b"/><rect x="680.00" y="269.1" width="3.00" height="33.9" fill="#0b860b"/><line x1="685.00" y1="267.7" x2="685.00" y2="283.2" stroke="#c81e28"/><line x1="685.00" y1="290.6" x2="685.00" y2="294.2" stroke="#c81e28"/><rect x="684.00" y="283.7" width="2.00" height="6.3" fill="#fff" stroke="#c81e28"/><line x1="688.50" y1="274.4" x2="688.50" y2="275.1" stroke="#c81e28"/><line x1="688.50" y1="293.5" x2="688.50" y2="304.5" stroke="#c81e28"/><rect x="687.50" y="275.6" width="2.00" height="17.4" fill="#fff" stroke="#c81e28"/><line x1="693.00" y1="278.8" x2="693.00" y2="295.7" stroke="#0b860b"/><rect x="691.50" y="281.0" width="3.00" height="1.5" fill="#0b860b"/><line x1="696.50" y1="264.7" x2="696.50" y2="278.8" stroke="#0b860b"/><rect x="695.00" y="271.5" width="3.00" height="1.0" fill="#0b860b"/><line x1="700.50" y1="262.5" x2="700.50" y2="286.9" stroke="#0b860b"/><rect x="699.00" y="264.0" width="3.00" height="12.6" fill="#0b860b"/><line x1="703.50" y1="241.2" x2="703.50" y2="247.1" stroke="#c81e28"/><line x1="703.50" y1="268.4" x2="703.50" y2="269.1" stroke="#c81e28"/><rect x="702.50" y="247.6" width="2.00" height="20.3" fill="#fff" stroke="#c81e28"/><line x1="707.50" y1="219.2" x2="707.50" y2="224.6" stroke="#c81e28"/><line x1="707.50" y1="225.5" x2="707.50" y2="230.9" stroke="#c81e28"/><rect x="706.50" y="225.1" width="2.00" height="0.5" fill="#fff" stroke="#c81e28"/><line x1="711.50" y1="207.4" x2="711.50" y2="236.1" stroke="#0b860b"/><rect x="710.00" y="216.3" width="3.00" height="11.0" fill="#0b860b"/><line x1="715.50" y1="213.3" x2="715.50" y2="223.6" stroke="#0b860b"/><rect x="714.00" y="217.0" width="3.00" height="5.1" fill="#0b860b"/><line x1="719.50" y1="216.3" x2="719.50" y2="240.5" stroke="#0b860b"/><rect x="718.00" y="221.4" width="3.00" height="13.2" fill="#0b860b"/><line x1="722.50" y1="219.9" x2="722.50" y2="228.0" stroke="#0b860b"/><rect x="721.00" y="220.7" width="3.00" height="3.7" fill="#0b860b"/><line x1="727.00" y1="172.9" x2="727.00" y2="195.0" stroke="#c81e28"/><line x1="727.00" y1="211.9" x2="727.00" y2="214.8" stroke="#c81e28"/><rect x="726.00" y="195.5" width="2.00" height="15.9" fill="#fff" stroke="#c81e28"/><line x1="730.50" y1="192.8" x2="730.50" y2="255.9" stroke="#0b860b"/><rect x="729.00" y="192.8" width="3.00" height="56.5" fill="#0b860b"/><line x1="734.00" y1="206.7" x2="734.00" y2="220.7" stroke="#c81e28"/><line x1="734.00" y1="228.7" x2="734.00" y2="229.5" stroke="#c81e28"/><rect x="733.00" y="221.2" width="2.00" height="7.1" fill="#fff" stroke="#c81e28"/><line x1="737.50" y1="193.5" x2="737.50" y2="208.9" stroke="#c81e28"/><line x1="737.50" y1="230.2" x2="737.50" y2="240.5" stroke="#c81e28"/><rect x="736.50" y="209.4" width="2.00" height="20.3" fill="#fff" stroke="#c81e28"/><line x1="742.00" y1="158.1" x2="742.00" y2="166.7" stroke="#c81e28"/><line x1="742.00" y1="180.3" x2="742.00" y2="195.7" stroke="#c81e28"/><rect x="741.00" y="167.2" width="2.00" height="12.6" fill="#fff" stroke="#c81e28"/><line x1="745.50" y1="152.0" x2="745.50" y2="189.8" stroke="#0b860b"/><rect x="744.00" y="154.2" width="3.00" height="30.6" fill="#0b860b"/><line x1="749.50" y1="200.1" x2="749.50" y2="221.4" stroke="#0b860b"/><rect x="748.00" y="207.4" width="3.00" height="7.3" fill="#0b860b"/><line x1="753.50" y1="195.0" x2="753.50" y2="200.8" stroke="#c81e28"/><line x1="753.50" y1="206.7" x2="753.50" y2="207.4" stroke="#c81e28"/><rect x="752.50" y="201.3" width="2.00" height="4.9" fill="#fff" stroke="#c81e28"/><line x1="756.50" y1="192.0" x2="756.50" y2="217.0" stroke="#0b860b"/><rect x="755.00" y="192.0" width="3.00" height="17.6" fill="#0b860b"/><line x1="761.00" y1="213.3" x2="761.00" y2="247.1" stroke="#0b860b"/><rect x="759.50" y="219.2" width="3.00" height="8.8" fill="#0b860b"/><line x1="764.50" y1="211.9" x2="764.50" y2="216.3" stroke="#c81e28"/><line x1="764.50" y1="229.5" x2="764.50" y2="234.6" stroke="#c81e28"/><rect x="763.50" y="216.8" width="2.00" height="12.2" fill="#fff" stroke="#c81e28"/><line x1="768.00" y1="172.7" x2="768.00" y2="183.1" stroke="#c81e28"/><line x1="768.00" y1="186.6" x2="768.00" y2="188.7" stroke="#c81e28"/><rect x="767.00" y="183.6" width="2.00" height="2.5" fill="#fff" stroke="#c81e28"/><line x1="772.00" y1="161.1" x2="772.00" y2="177.9" stroke="#0b860b"/><rect x="770.50" y="161.5" width="3.00" height="4.8" fill="#0b860b"/><line x1="775.50" y1="158.1" x2="775.50" y2="179.7" stroke="#0b860b"/><rect x="774.00" y="158.1" width="3.00" height="17.7" fill="#0b860b"/><line x1="779.50" y1="147.3" x2="779.50" y2="173.2" stroke="#c81e28"/><line x1="779.50" y1="173.6" x2="779.50" y2="178.8" stroke="#c81e28"/><rect x="778.50" y="173.7" width="2.00" height="0.5" fill="#fff" stroke="#c81e28"/><line x1="783.50" y1="174.4" x2="783.50" y2="191.7" stroke="#0b860b"/><rect x="782.00" y="174.5" width="3.00" height="16.6" fill="#0b860b"/><line x1="787.50" y1="158.1" x2="787.50" y2="162.2" stroke="#c81e28"/><line x1="787.50" y1="184.2" x2="787.50" y2="184.8" stroke="#c81e28"/><rect x="786.50" y="162.7" width="2.00" height="21.0" fill="#fff" stroke="#c81e28"/><line x1="790.50" y1="144.7" x2="790.50" y2="165.4" stroke="#0b860b"/><rect x="789.00" y="145.1" width="3.00" height="16.9" fill="#0b860b"/><line x1="795.00" y1="170.8" x2="795.00" y2="187.7" stroke="#c81e28"/><line x1="795.00" y1="192.1" x2="795.00" y2="201.0" stroke="#c81e28"/><rect x="794.00" y="188.2" width="2.00" height="3.4" fill="#fff" stroke="#c81e28"/><line x1="798.50" y1="107.0" x2="798.50" y2="117.3" stroke="#c81e28"/><line x1="798.50" y1="173.0" x2="798.50" y2="178.2" stroke="#c81e28"/><rect x="797.50" y="117.8" width="2.00" height="54.7" fill="#fff" stroke="#c81e28"/><line x1="802.00" y1="106.3" x2="802.00" y2="142.2" stroke="#0b860b"/><rect x="800.50" y="109.9" width="3.00" height="28.7" fill="#0b860b"/><line x1="805.50" y1="134.2" x2="805.50" y2="136.4" stroke="#c81e28"/><line x1="805.50" y1="149.5" x2="805.50" y2="177.4" stroke="#c81e28"/><rect x="804.50" y="136.9" width="2.00" height="12.1" fill="#fff" stroke="#c81e28"/><line x1="810.00" y1="66.6" x2="810.00" y2="84.2" stroke="#c81e28"/><line x1="810.00" y1="102.6" x2="810.00" y2="111.4" stroke="#c81e28"/><rect x="809.00" y="84.7" width="2.00" height="17.4" fill="#fff" stroke="#c81e28"/><line x1="813.50" y1="93.0" x2="813.50" y2="119.5" stroke="#0b860b"/><rect x="812.00" y="98.2" width="3.00" height="5.8" fill="#0b860b"/><line x1="817.50" y1="100.4" x2="817.50" y2="141.5" stroke="#0b860b"/><rect x="816.00" y="102.6" width="3.00" height="29.4" fill="#0b860b"/><line x1="821.50" y1="130.5" x2="821.50" y2="179.6" stroke="#0b860b"/><rect x="820.00" y="132.0" width="3.00" height="42.5" fill="#0b860b"/><line x1="824.50" y1="145.1" x2="824.50" y2="154.0" stroke="#c81e28"/><line x1="824.50" y1="204.6" x2="824.50" y2="208.3" stroke="#c81e28"/><rect x="823.50" y="154.5" width="2.00" height="49.6" fill="#fff" stroke="#c81e28"/><line x1="829.00" y1="148.8" x2="829.00" y2="177.4" stroke="#0b860b"/><rect x="827.50" y="159.0" width="3.00" height="10.4" fill="#0b860b"/><line x1="832.50" y1="165.0" x2="832.50" y2="181.1" stroke="#c81e28"/><line x1="832.50" y1="189.2" x2="832.50" y2="201.0" stroke="#c81e28"/><rect x="831.50" y="181.6" width="2.00" height="7.1" fill="#fff" stroke="#c81e28"/><line x1="836.00" y1="173.0" x2="836.00" y2="195.8" stroke="#0b860b"/><rect x="834.50" y="189.2" width="3.00" height="4.4" fill="#0b860b"/><line x1="839.50" y1="172.3" x2="839.50" y2="236.2" stroke="#0b860b"/><rect x="838.00" y="178.2" width="3.00" height="56.5" fill="#0b860b"/><line x1="844.00" y1="220.8" x2="844.00" y2="228.1" stroke="#c81e28"/><line x1="844.00" y1="243.8" x2="844.00" y2="259.4" stroke="#c81e28"/><rect x="843.00" y="228.6" width="2.00" height="14.7" fill="#fff" stroke="#c81e28"/><line x1="847.50" y1="212.0" x2="847.50" y2="217.8" stroke="#c81e28"/><line x1="847.50" y1="232.5" x2="847.50" y2="237.0" stroke="#c81e28"/><rect x="846.50" y="218.3" width="2.00" height="13.7" fill="#fff" stroke="#c81e28"/><line x1="851.50" y1="200.2" x2="851.50" y2="204.6" stroke="#c81e28"/><line x1="851.50" y1="220.0" x2="851.50" y2="237.7" stroke="#c81e28"/><rect x="850.50" y="205.1" width="2.00" height="14.4" fill="#fff" stroke="#c81e28"/><line x1="855.00" y1="182.6" x2="855.00" y2="187.0" stroke="#c81e28"/><line x1="855.00" y1="199.5" x2="855.00" y2="208.3" stroke="#c81e28"/><rect x="854.00" y="187.5" width="2.00" height="11.5" fill="#fff" stroke="#c81e28"/><line x1="858.50" y1="164.2" x2="858.50" y2="165.7" stroke="#c81e28"/><line x1="858.50" y1="172.3" x2="858.50" y2="181.1" stroke="#c81e28"/><rect x="857.50" y="166.2" width="2.00" height="5.6" fill="#fff" stroke="#c81e28"/><line x1="862.50" y1="176.0" x2="862.50" y2="194.3" stroke="#0b860b"/><rect x="861.00" y="176.0" width="3.00" height="17.6" fill="#0b860b"/><line x1="866.50" y1="179.6" x2="866.50" y2="201.7" stroke="#0b860b"/><rect x="865.00" y="179.6" width="3.00" height="14.0" fill="#0b860b"/><line x1="870.00" y1="190.0" x2="870.00" y2="212.7" stroke="#0b860b"/><rect x="868.50" y="190.0" width="3.00" height="8.7" fill="#0b860b"/><line x1="873.50" y1="181.8" x2="873.50" y2="184.8" stroke="#c81e28"/><line x1="873.50" y1="200.2" x2="873.50" y2="201.7" stroke="#c81e28"/><rect x="872.50" y="185.3" width="2.00" height="14.4" fill="#fff" stroke="#c81e28"/><line x1="878.00" y1="179.6" x2="878.00" y2="194.3" stroke="#0b860b"/><rect x="876.50" y="186.3" width="3.00" height="5.1" fill="#0b860b"/><line x1="881.50" y1="183.3" x2="881.50" y2="203.9" stroke="#0b860b"/><rect x="880.00" y="189.2" width="3.00" height="5.1" fill="#0b860b"/><line x1="885.50" y1="177.4" x2="885.50" y2="198.7" stroke="#2a6fb0"/><line x1="884.00" y1="197.3" x2="887.00" y2="197.3" stroke="#2a6fb0"/><line x1="889.00" y1="159.1" x2="889.00" y2="169.4" stroke="#c81e28"/><line x1="889.00" y1="199.5" x2="889.00" y2="202.4" stroke="#c81e28"/><rect x="888.00" y="169.9" width="2.00" height="29.1" fill="#fff" stroke="#c81e28"/><line x1="892.50" y1="156.2" x2="892.50" y2="159.1" stroke="#c81e28"/><line x1="892.50" y1="184.0" x2="892.50" y2="199.5" stroke="#c81e28"/><rect x="891.50" y="159.6" width="2.00" height="23.9" fill="#fff" stroke="#c81e28"/><line x1="896.50" y1="146.6" x2="896.50" y2="203.9" stroke="#0b860b"/><rect x="895.00" y="146.6" width="3.00" height="41.9" fill="#0b860b"/><line x1="900.50" y1="180.4" x2="900.50" y2="201.0" stroke="#0b860b"/><rect x="899.00" y="180.4" width="3.00" height="13.2" fill="#0b860b"/><line x1="904.00" y1="182.6" x2="904.00" y2="190.0" stroke="#c81e28"/><line x1="904.00" y1="200.2" x2="904.00" y2="203.1" stroke="#c81e28"/><rect x="903.00" y="190.5" width="2.00" height="9.2" fill="#fff" stroke="#c81e28"/><line x1="907.50" y1="170.8" x2="907.50" y2="203.1" stroke="#0b860b"/><rect x="906.00" y="187.0" width="3.00" height="14.7" fill="#0b860b"/><line x1="912.00" y1="157.4" x2="912.00" y2="179.4" stroke="#c81e28"/><rect x="911.00" y="179.9" width="2.00" height="2.0" fill="#fff" stroke="#c81e28"/><line x1="915.50" y1="157.4" x2="915.50" y2="165.5" stroke="#c81e28"/><line x1="915.50" y1="168.4" x2="915.50" y2="174.5" stroke="#c81e28"/><rect x="914.50" y="166.0" width="2.00" height="1.9" fill="#fff" stroke="#c81e28"/><line x1="919.50" y1="106.7" x2="919.50" y2="114.1" stroke="#c81e28"/><line x1="919.50" y1="148.6" x2="919.50" y2="149.5" stroke="#c81e28"/><rect x="918.50" y="114.6" width="2.00" height="33.5" fill="#fff" stroke="#c81e28"/><line x1="923.00" y1="118.5" x2="923.00" y2="146.4" stroke="#0b860b"/><rect x="921.50" y="118.5" width="3.00" height="16.1" fill="#0b860b"/><line x1="927.00" y1="122.2" x2="927.00" y2="125.8" stroke="#c81e28"/><line x1="927.00" y1="135.4" x2="927.00" y2="140.5" stroke="#c81e28"/><rect x="926.00" y="126.3" width="2.00" height="8.6" fill="#fff" stroke="#c81e28"/></g><g stroke="#4f93bf" stroke-width="1" fill="none"><line x1="793" y1="66.6" x2="810" y2="66.6"/><polyline points="806.2,62.9 810.1,66.6 806.2,70.5"/><line x1="233.8" y1="656.2" x2="250.7" y2="656.2"/><polyline points="247.2,652.7 250.7,656.2 247.2,659.9"/></g><line x1="759.5" y1="40.5" x2="980" y2="40.5" stroke="#444" stroke-width="1"/><g fill="#c4262b"><rect x="971.6" y="15" width="1.6" height="1.6"/><rect x="974.5" y="15" width="1.6" height="1.6"/><rect x="977.4" y="15" width="1.6" height="1.6"/></g><g fill="none" stroke="#9a9a9a" stroke-width="1.1"><rect x="1005.7" y="3.4" width="15.6" height="11.8"/><line x1="1013.5" y1="15.2" x2="1013.5" y2="17.6"/><line x1="1007.4" y1="18" x2="1019.8" y2="18" stroke-width="1.2"/></g><text x="1007.3" y="12.7" font-size="8.4" font-weight="bold" fill="#8c8c8c" textLength="12.8" lengthAdjust="spacingAndGlyphs">WP</text><polygon points="981.4,27.2 996.9,27.2 989.1,38.9" fill="#8a8a8a"/><path d="M1014.6,31.5 L1014.6,30.2 A2.9,2.9 0 0 1 1020.4,30.2 L1020.4,31.2" fill="none" stroke="#e9c27a" stroke-width="1.3"/><rect x="1004.1" y="32.1" width="10.8" height="8.6" rx="1.2" fill="#f0b52d"/><circle cx="1009.5" cy="34.8" r="1" fill="#fff"/><rect x="1009" y="34.8" width="1" height="4" fill="#fff"/><text x="3.08" y="16.90" font-size="17.5" fill="#333333" textLength="105.23" lengthAdjust="spacingAndGlyphs">TAN.P[Invesco</text><text x="108.34" y="16.60" font-size="15.5" fill="#333333" font-weight="350" textLength="49.73" lengthAdjust="spacingAndGlyphs">太阳能</text><text x="157.34" y="16.90" font-size="17.5" fill="#333333" textLength="28.74" lengthAdjust="spacingAndGlyphs">ETF]</text><text x="203.50" y="16.90" font-size="17.5" fill="#333333" textLength="90.46" lengthAdjust="spacingAndGlyphs">2025/12/24</text><text x="304.72" y="16.60" font-size="15.5" fill="#333333" font-weight="350" textLength="16.33" lengthAdjust="spacingAndGlyphs">收</text><text x="323.32" y="16.90" font-size="17.5" fill="#c4262b" textLength="61.17" lengthAdjust="spacingAndGlyphs">50.8600</text><text x="395.58" y="16.60" font-size="15.5" fill="#333333" font-weight="350" textLength="16.97" lengthAdjust="spacingAndGlyphs">幅</text><text x="413.53" y="16.90" font-size="17.5" fill="#c4262b" textLength="109.07" lengthAdjust="spacingAndGlyphs">0.91%(0.4600)</text><text x="532.96" y="16.60" font-size="15.5" fill="#333333" font-weight="350" textLength="16.89" lengthAdjust="spacingAndGlyphs">开</text><text x="551.32" y="16.90" font-size="17.5" fill="#2a8a2a" textLength="61.27" lengthAdjust="spacingAndGlyphs">50.3800</text><text x="623.60" y="16.60" font-size="15.5" fill="#333333" font-weight="350" textLength="16.70" lengthAdjust="spacingAndGlyphs">高</text><text x="642.32" y="16.90" font-size="17.5" fill="#c4262b" textLength="61.06" lengthAdjust="spacingAndGlyphs">51.0400</text><text x="715.18" y="16.60" font-size="15.5" fill="#333333" font-weight="350" textLength="16.11" lengthAdjust="spacingAndGlyphs">低</text><text x="733.82" y="16.90" font-size="17.5" fill="#2a8a2a" textLength="60.48" lengthAdjust="spacingAndGlyphs">50.1100</text><text x="805.42" y="16.60" font-size="15.5" fill="#333333" font-weight="350" textLength="16.97" lengthAdjust="spacingAndGlyphs">均</text><text x="823.82" y="16.90" font-size="17.5" fill="#c4262b" textLength="61.85" lengthAdjust="spacingAndGlyphs">50.6186</text><text x="895.96" y="16.60" font-size="15.5" fill="#333333" font-weight="350" textLength="16.70" lengthAdjust="spacingAndGlyphs">量</text><text x="915.04" y="16.90" font-size="17.5" fill="#333333" textLength="42.86" lengthAdjust="spacingAndGlyphs">67.82</text><text x="956.88" y="16.60" font-size="15.5" fill="#333333" font-weight="350" textLength="15.56" lengthAdjust="spacingAndGlyphs">万</text><text x="758.78" y="38.50" font-size="15.3" fill="#333333" textLength="201.44" lengthAdjust="spacingAndGlyphs">2025/01/02-2025/12/24(246</text><text x="960.42" y="38.90" font-size="12.5" fill="#333333" font-weight="350" textLength="15.15" lengthAdjust="spacingAndGlyphs">日</text><text x="975.76" y="38.50" font-size="15.3" fill="#333333" textLength="4.74" lengthAdjust="spacingAndGlyphs">)</text><text x="737.29" y="72.50" font-size="16.6" fill="#c4262b" textLength="55.45" lengthAdjust="spacingAndGlyphs">53.6800</text><text x="177.82" y="661.90" font-size="16.6" fill="#2a8a2a" textLength="56.12" lengthAdjust="spacingAndGlyphs">25.5300</text><text x="959.38" y="106.20" font-size="16.6" fill="#a0a0a0" textLength="30.90" lengthAdjust="spacingAndGlyphs">50%</text><text x="959.69" y="179.20" font-size="16.6" fill="#a0a0a0" textLength="30.90" lengthAdjust="spacingAndGlyphs">40%</text><text x="959.38" y="251.20" font-size="16.6" fill="#a0a0a0" textLength="30.90" lengthAdjust="spacingAndGlyphs">30%</text><text x="959.23" y="324.20" font-size="16.6" fill="#a0a0a0" textLength="30.90" lengthAdjust="spacingAndGlyphs">20%</text><text x="958.76" y="397.20" font-size="16.6" fill="#a0a0a0" textLength="30.90" lengthAdjust="spacingAndGlyphs">10%</text><text x="959.38" y="470.20" font-size="16.6" fill="#a0a0a0" textLength="22.31" lengthAdjust="spacingAndGlyphs">0%</text><text x="959.38" y="542.20" font-size="16.6" fill="#a0a0a0" textLength="36.04" lengthAdjust="spacingAndGlyphs">-10%</text><text x="959.38" y="615.20" font-size="16.6" fill="#a0a0a0" textLength="36.04" lengthAdjust="spacingAndGlyphs">-20%</text><text x="3.70" y="686.80" font-size="16.6" fill="#a0a0a0" textLength="41.01" lengthAdjust="spacingAndGlyphs">25-01</text><text x="79.30" y="686.80" font-size="16.6" fill="#a0a0a0" textLength="41.01" lengthAdjust="spacingAndGlyphs">25-02</text><text x="150.30" y="686.80" font-size="16.6" fill="#a0a0a0" textLength="41.01" lengthAdjust="spacingAndGlyphs">25-03</text><text x="230.30" y="686.80" font-size="16.6" fill="#a0a0a0" textLength="41.01" lengthAdjust="spacingAndGlyphs">25-04</text><text x="309.30" y="686.80" font-size="16.6" fill="#a0a0a0" textLength="41.01" lengthAdjust="spacingAndGlyphs">25-05</text><text x="388.30" y="686.80" font-size="16.6" fill="#a0a0a0" textLength="41.01" lengthAdjust="spacingAndGlyphs">25-06</text><text x="464.30" y="686.80" font-size="16.6" fill="#a0a0a0" textLength="41.01" lengthAdjust="spacingAndGlyphs">25-07</text><text x="547.30" y="686.80" font-size="16.6" fill="#a0a0a0" textLength="41.01" lengthAdjust="spacingAndGlyphs">25-08</text><text x="626.30" y="686.80" font-size="16.6" fill="#a0a0a0" textLength="41.01" lengthAdjust="spacingAndGlyphs">25-09</text><text x="705.30" y="686.80" font-size="16.6" fill="#a0a0a0" textLength="41.01" lengthAdjust="spacingAndGlyphs">25-10</text><text x="792.30" y="686.80" font-size="16.6" fill="#a0a0a0" textLength="39.82" lengthAdjust="spacingAndGlyphs">25-11</text><text x="864.30" y="686.80" font-size="16.6" fill="#a0a0a0" textLength="41.01" lengthAdjust="spacingAndGlyphs">25-12</text></svg>
</body></html>
